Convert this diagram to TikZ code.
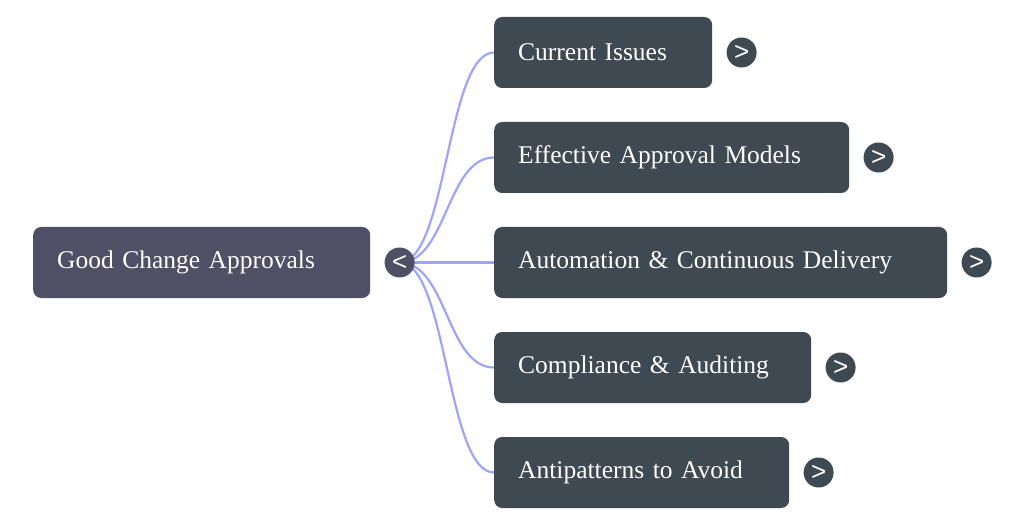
\documentclass[tikz,border=0pt]{standalone}
\usepackage{fontspec}
\setmainfont{Liberation Serif}
\newfontfamily\btnfont{Liberation Sans}
\usetikzlibrary{positioning,backgrounds}

\definecolor{rootgray}{HTML}{4F5066}
\definecolor{boxgray}{HTML}{3F4951}
\definecolor{linkblue}{HTML}{9EA4F6}

\tikzset{
  topic/.style={draw=none, rounded corners=8pt, text=white, anchor=west,
    inner xsep=24pt, minimum height=71pt, align=left,
    font=\fontsize{25.5}{30}\selectfont},
  btn/.style={circle, inner sep=0pt, minimum size=30pt, text=white,
    font=\btnfont\fontsize{26}{26}\selectfont},
  link/.style={draw=linkblue, line width=2.2pt}
}

\begin{document}
\begin{tikzpicture}[x=1pt, y=-1pt]
    \useasboundingbox (0,0) rectangle (1024,526);

    % Root topic
    \node[topic, fill=rootgray, text width=289pt] (root) at (33,262.5) {Good Change Approvals};
    \node[btn, fill=rootgray, right=14pt of root] (rb) {<};

    % Subtopics
    \node[topic, fill=boxgray, text width=170pt] (cur) at (494,52.5) {Current Issues};
    \node[topic, fill=boxgray, text width=307pt] (eff) at (494,157.5) {Effective Approval Models};
    \node[topic, fill=boxgray, text width=405pt] (aut) at (494,262.5) {Automation \& Continuous Delivery};
    \node[topic, fill=boxgray, text width=269pt] (com) at (494,367.5) {Compliance \& Auditing};
    \node[topic, fill=boxgray, text width=247pt] (ant) at (494,472.5) {Antipatterns to Avoid};

    % Expand buttons
    \node[btn, fill=boxgray, right=14pt of cur] (cb) {>};
    \node[btn, fill=boxgray, right=14pt of eff] (eb) {>};
    \node[btn, fill=boxgray, right=14pt of aut] (ab) {>};
    \node[btn, fill=boxgray, right=14pt of com] (mb) {>};
    \node[btn, fill=boxgray, right=14pt of ant] (pb) {>};

    % Links
    \begin{scope}[on background layer]
        \draw[link] (rb.center) .. controls +(47.5,0) and +(-47.5,0) .. (cur.west);
        \draw[link] (rb.center) .. controls +(47.5,0) and +(-47.5,0) .. (eff.west);
        \draw[link] (rb.center) -- (aut.west);
        \draw[link] (rb.center) .. controls +(47.5,0) and +(-47.5,0) .. (com.west);
        \draw[link] (rb.center) .. controls +(47.5,0) and +(-47.5,0) .. (ant.west);
    \end{scope}
\end{tikzpicture}
\end{document}
